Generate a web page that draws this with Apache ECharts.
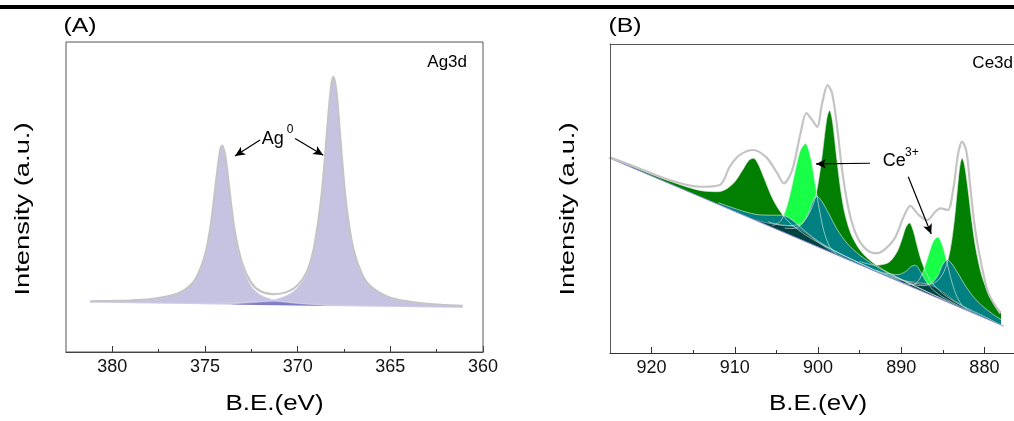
<!DOCTYPE html>
<html><head><meta charset="utf-8">
<script src="https://cdn.jsdelivr.net/npm/echarts@6/dist/echarts.min.js"></script>
<style>html,body{margin:0;padding:0;background:#fff}#c{width:1014px;height:421px}</style>
</head><body><div id="c"></div>
<script>
// ---------------- Panel A : Ag3d ----------------
const agEnergy = [381.2,380,379,378,377,376.5,376,375.5,375,374.7,374.4,374.2,374.07,373.9,373.7,373.4,373,372.5,372,371.3,370.6,370,369.5,369.1,368.7,368.4,368.2,368.07,367.9,367.7,367.4,367,366.5,366,365,364,363,362,361.1];
const agPeak374 = [16.3,16.35,16.5,16.8,17.75,18.6,20.2,23.4,31.0,40.35,54.9,64.0,66.1,62.6,52.8,38.65,28.0,21.2,18.4,16.85,16.1,15.75,15.5,15.4,15.3,15.2,15.2,15.15,15.15,15.1,15.05,15.0,14.9,14.8,14.65,14.6,14.45,14.4,14.3];
const agPeak368 = [16.0,15.9,15.85,15.8,15.75,15.7,15.7,15.7,15.75,15.75,15.75,15.8,15.8,15.85,15.9,15.95,16.0,16.3,16.3,16.85,18.2,20.75,25.4,33.9,51.05,72.2,85.3,88.4,83.3,69.05,48.65,33.2,24.55,20.7,17.4,16.15,15.45,15.05,14.8];
const agEnvelope = [16.4,16.5,16.65,17.0,17.95,18.8,20.45,23.7,31.35,40.75,55.35,64.5,66.6,63.15,53.4,39.35,28.8,22.3,19.6,18.65,19.3,21.55,26.0,34.4,51.5,72.6,85.7,88.8,83.65,69.4,48.95,33.5,24.8,20.9,17.55,16.3,15.55,15.15,14.9];
const agBackground = [[381.6,15.93],[360.8,14.17]];
const agLens = [[373.5,15.25],[372.5,15.7],[371.3,16.15],[370,15.45],[368.6,14.84]];
const agTickLabels = [380,375,370,365,360];
const agMinorTicks = [377.5,372.5,367.5,362.5];

// ---------------- Panel B : Ce3d ----------------
const ceBackground = [[925.5,63.6],[877.7,8.72]];
const ceDG1 = [[925,63.3],[922,60.0],[919,56.8],[916,53.96],[914,52.5],[912,52.2],[911,53.1],[910,55.4],[909,59.5],[908.3,62.4],[907.75,63.0],[907.2,61.2],[906.5,56.7],[905.5,50.2],[904.5,45.6],[903.5,42.4],[902,39.1],[900,35.8],[898,33.0],[895,29.1],[892,25.5],[889,21.7]];
const ceDG2 = [[906,42.5],[904,41.2],[902.5,41.45],[901.5,43.2],[900.5,48.7],[900,54.6],[899.5,63.9],[899.1,72.8],[898.85,77.0],[898.6,78.5],[898.35,76.4],[898.1,71.6],[897.7,61.9],[897.2,51.4],[896.7,44.3],[896,38.3],[895,33.5],[894,30.6],[892.5,27.55],[890.5,24.5],[888,21.2],[885,17.5],[883,14.8]];
const ceDG3 = [[895,29.6],[893,28.4],[891.5,29.3],[890.5,32.7],[889.9,36.9],[889.45,40.6],[889,42.1],[888.55,39.6],[888.1,34.9],[887.5,29.25],[886.5,23.5],[885,19.2],[883,15.8],[881,13.1],[880,11.8],[878,9.06]];
const ceDG4 = [[893,26.8],[890,23.8],[888,22.4],[886.5,22.3],[885.5,23.7],[884.7,27.3],[884.1,33.5],[883.6,43.3],[883.2,54.3],[882.95,60.4],[882.68,63.1],[882.4,61.0],[882,53.6],[881.5,42.4],[881,33.3],[880.3,24.9],[879.5,19.2],[878.7,15.6],[878,13.3]];
const ceLG1 = [[905.5,41.2],[904.5,42.7],[903.8,46.9],[903.2,53.2],[902.6,60.7],[902.1,65.7],[901.5,67.8],[900.9,63.4],[900.4,55.8],[899.9,47.4],[899.3,39.5],[898.6,34.5],[897.8,32.1]];
const ceLG2 = [[889.6,22.45],[888.6,22.05],[887.9,23.5],[887.3,26.8],[886.7,31.8],[886.15,36.1],[885.6,37.5],[885.05,34.85],[884.5,29.3],[883.9,22.9],[883.3,18.2],[882.6,15.2],[881.6,13.3]];
const ceT1 = [[912,48.65],[909,45.9],[907,44.7],[905.5,44.6],[904.5,44.6],[903.8,44.2],[903,42.8],[902,40.5],[901,38.2],[899.5,35.4],[897.5,32.4],[895,29.1],[892,25.13]];
const ceT2 = [[904,40.4],[903,40.3],[902.3,40.9],[901.7,42.5],[901.1,45.6],[900.6,49.2],[900.13,50.7],[899.5,48.9],[898.8,45.6],[897.7,40.0],[896.5,35.5],[895,31.7],[893,28.05],[890.5,24.4],[887,19.96],[884,15.95]];
const ceT3 = [[889.5,23.0],[888.2,22.0],[887.2,21.8],[886.3,22.7],[885.6,25.0],[885.0,28.6],[884.48,30.2],[883.9,28.8],[883.2,25.9],[882.2,21.4],[881.2,17.8],[880.2,15.1],[879,12.6],[878,10.8]];
const ceT4 = [[892,25.95],[890.5,25.35],[889.5,26.3],[888.8,28.0],[888.3,28.4],[887.7,26.4],[887.0,23.1],[886.2,20.55],[885,18.1],[883.5,15.9],[882,13.65]];
const ceDT1 = [[907.5,43.1],[906,42.0],[905,41.65],[904,41.4],[903.2,41.0],[902.5,40.4],[901.7,39.2],[900.8,37.55],[899.8,35.5],[898.5,33.1],[897,31.0]];
const ceDT2 = [[891.3,24.5],[889.8,23.4],[888.8,23.05],[887.8,22.8],[887.0,22.4],[886.3,21.8],[885.5,20.65],[884.6,18.95],[883.6,16.9],[882.3,14.55],[880.8,12.4]];
const ceEnvelope = [[925,63.3],[922,60.3],[918.2,56.3],[914.2,53.8],[911.8,54.4],[910.6,60.3],[909.4,64.1],[907.8,65.7],[906.2,63.3],[904.9,58.2],[904.1,54.9],[903.1,59.2],[902.1,71.1],[901.4,77.6],[900.7,75.4],[900.1,73.2],[899.5,80.8],[898.85,86.7],[898.3,84.0],[897.7,73.2],[897.1,59.2],[896.3,46.3],[895.3,37.6],[894.1,33.3],[892.9,32.3],[890.9,36.6],[889.7,44.1],[888.9,47.6],[887.9,44.7],[886.9,43.0],[885.9,45.7],[885.3,46.8],[884.4,46.3],[883.7,53.8],[883.15,64.6],[882.68,68.4],[882.15,65.1],[881.7,53.8],[881.1,39.8],[880.3,27.9],[879.5,19.3],[878.07,12.8]];
const ceTickLabels = [920,910,900,890,880];
const ceMinorTicks = [915,905,895,885];

// annotation anchors (data coordinates)
const agArrows = [[[372.03,68.4],[373.38,63.2]],[[370.14,68.9],[368.62,63.5]]];
const ceArrows = [[[893.75,61.4],[900.24,61.2]],[[889.15,57.06],[886.39,38.5]]];

const FONT = "'Liberation Sans', Arial, Helvetica, sans-serif";
const DG = '#007f00', LG = '#19ff48', TEAL = '#008080', DTEAL = '#004343', LAV = '#c5c2e2';

const chart = echarts.init(document.getElementById('c'), null, {renderer: 'canvas'});

function pairs(xs, ys) { return xs.map((x, i) => [x, ys[i]]); }
function isTick(list, v) { return list.some(t => Math.abs(t - v) < 1e-6); }

function comp(data, color, xi, yi, outline) {
  return {type: 'line', data, xAxisIndex: xi, yAxisIndex: yi, smooth: 0.3, symbol: 'none', silent: true,
    lineStyle: {color: outline, width: 0.8}, areaStyle: {color, opacity: 1}, z: 2};
}
function arrowLine(arr) {
  return {silent: true, symbol: ['none', 'arrow'], symbolSize: [7, 10], label: {show: false},
    lineStyle: {color: '#000', width: 1.2, type: 'solid'},
    emphasis: {disabled: true},
    data: arr.map(a => [{coord: a[0]}, {coord: a[1]}])};
}

function majorAxis(gi, min, max, step, labels) {
  return {gridIndex: gi, type: 'value', min, max, inverse: true, minInterval: step, maxInterval: step,
    position: 'bottom', z: 5,
    axisLine: {onZero: false, lineStyle: {color: '#333', width: 1.2}},
    axisTick: {inside: true, length: 6, customValues: labels, lineStyle: {color: '#333', width: 1}},
    axisLabel: {margin: 6, fontSize: 18, color: '#111', fontFamily: FONT, customValues: labels,
      formatter: v => isTick(labels, v) ? String(Math.round(v)) : ''},
    splitLine: {show: false}};
}
function minorAxis(gi, min, max, step, minors) {
  return {gridIndex: gi, type: 'value', min, max, inverse: true, minInterval: step, maxInterval: step,
    position: 'bottom', z: 5,
    axisLine: {show: false, onZero: false},
    axisTick: {inside: true, length: 3, customValues: minors, lineStyle: {color: '#333', width: 1}},
    axisLabel: {show: false}, splitLine: {show: false}};
}

const option = {
  animation: false,
  backgroundColor: '#fff',
  grid: [
    {left: 66, top: 42, width: 417, height: 310, show: true, borderColor: '#555', borderWidth: 1, z: 6},
    {left: 610, top: 44, width: 404, height: 309, show: false}
  ],
  xAxis: [
    majorAxis(0, 360, 382.5, 5, agTickLabels),
    minorAxis(0, 360, 382.5, 2.5, agMinorTicks),
    majorAxis(1, 876.44, 925, 10, ceTickLabels),
    minorAxis(1, 876.44, 925, 5, ceMinorTicks),
    {gridIndex: 1, type: 'value', min: 876.44, max: 925, inverse: true, position: 'top', z: 6,
      axisLine: {show: true, onZero: false, lineStyle: {color: '#555', width: 1}},
      axisTick: {show: false}, axisLabel: {show: false}, splitLine: {show: false}}
  ],
  yAxis: [
    {gridIndex: 0, type: 'value', min: 0, max: 100, show: false},
    {gridIndex: 1, type: 'value', min: 0, max: 100, position: 'left', z: 6,
      axisLine: {show: true, onZero: false, lineStyle: {color: '#555', width: 1}},
      axisTick: {show: false}, axisLabel: {show: false}, splitLine: {show: false}}
  ],
  series: [
    // Panel A
    comp(pairs(agEnergy, agPeak374), LAV, 0, 0, 'rgba(215,213,232,0.9)'),
    comp(pairs(agEnergy, agPeak368), LAV, 0, 0, 'rgba(215,213,232,0.9)'),
    comp(agLens, '#7f7cc8', 0, 0, 'rgba(127,124,200,0.6)'),
    {type: 'line', data: agBackground, xAxisIndex: 0, yAxisIndex: 0, symbol: 'none', silent: true, z: 3,
      lineStyle: {width: 0}, areaStyle: {color: '#fff', opacity: 1}},
    {type: 'line', data: pairs(agEnergy, agEnvelope), xAxisIndex: 0, yAxisIndex: 0, smooth: 0.3, symbol: 'none', silent: true, z: 4,
      lineStyle: {color: '#c4c4c4', width: 2}, markLine: arrowLine(agArrows)},
    // Panel B
    comp(ceDG1, DG, 2, 1, 'rgba(225,235,225,0.8)'),
    comp(ceDG2, DG, 2, 1, 'rgba(225,235,225,0.8)'),
    comp(ceDG3, DG, 2, 1, 'rgba(225,235,225,0.8)'),
    comp(ceDG4, DG, 2, 1, 'rgba(225,235,225,0.8)'),
    comp(ceLG1, LG, 2, 1, 'rgba(225,235,225,0.8)'),
    comp(ceLG2, LG, 2, 1, 'rgba(225,235,225,0.8)'),
    comp(ceT1, TEAL, 2, 1, 'rgba(225,235,235,0.8)'),
    comp(ceT2, TEAL, 2, 1, 'rgba(225,235,235,0.8)'),
    comp(ceT3, TEAL, 2, 1, 'rgba(225,235,235,0.8)'),
    comp(ceT4, TEAL, 2, 1, 'rgba(225,235,235,0.8)'),
    comp(ceDT1, DTEAL, 2, 1, 'rgba(200,215,215,0.6)'),
    comp(ceDT2, DTEAL, 2, 1, 'rgba(200,215,215,0.6)'),
    {type: 'line', data: ceBackground, xAxisIndex: 2, yAxisIndex: 1, symbol: 'none', silent: true, z: 3,
      lineStyle: {color: '#8a8ad8', width: 1}, areaStyle: {color: '#fff', opacity: 1}},
    {type: 'line', data: ceEnvelope, xAxisIndex: 2, yAxisIndex: 1, smooth: 0.3, symbol: 'none', silent: true, z: 4,
      lineStyle: {color: '#c4c4c4', width: 2.2}, markLine: arrowLine(ceArrows)}
  ]
};
chart.setOption(option);

function toPx(panel, pt) {
  return panel === 0 ? chart.convertToPixel({xAxisIndex: 0, yAxisIndex: 0}, pt)
                     : chart.convertToPixel({xAxisIndex: 2, yAxisIndex: 1}, pt);
}
function txt(x, y, text, size, opts) {
  opts = opts || {};
  return {type: 'text', x, y, rotation: opts.rot || 0, scaleX: opts.sx || 1, z: 20, silent: true,
    style: {text, fontSize: size, fontFamily: FONT, fill: '#000',
      align: opts.align || 'center', verticalAlign: 'middle'}};
}
const agA = toPx(0, [371.94, 68.7]);
const agSup = toPx(0, [370.59, 71.8]);
const ceA = toPx(1, [892.22, 62.0]);
const ceSup = toPx(1, [889.54, 64.95]);

chart.setOption({
  graphic: [
    {type: 'rect', shape: {x: 0, y: 5, width: 1014, height: 4}, style: {fill: '#000'}, z: 20, silent: true},
    txt(80, 26, '(A)', 20, {sx: 1.24}),
    txt(625, 26.5, '(B)', 20, {sx: 1.24}),
    txt(467, 62, 'Ag3d', 17, {align: 'right'}),
    txt(1013, 63, 'Ce3d', 17, {align: 'right'}),
    txt(274.5, 404, 'B.E.(eV)', 22, {sx: 1.18}),
    txt(818, 404, 'B.E.(eV)', 22, {sx: 1.18}),
    txt(23.5, 209, 'Intensity (a.u.)', 21, {sx: 1.3, rot: Math.PI / 2}),
    txt(568, 209, 'Intensity (a.u.)', 21, {sx: 1.3, rot: Math.PI / 2}),
    txt(agA[0], agA[1], 'Ag', 18, {align: 'left'}),
    txt(agSup[0], agSup[1], '0', 12, {align: 'left'}),
    txt(ceA[0], ceA[1], 'Ce', 18, {align: 'left'}),
    txt(ceSup[0], ceSup[1], '3+', 12, {align: 'left'})
  ]
});
</script>
</body></html>
